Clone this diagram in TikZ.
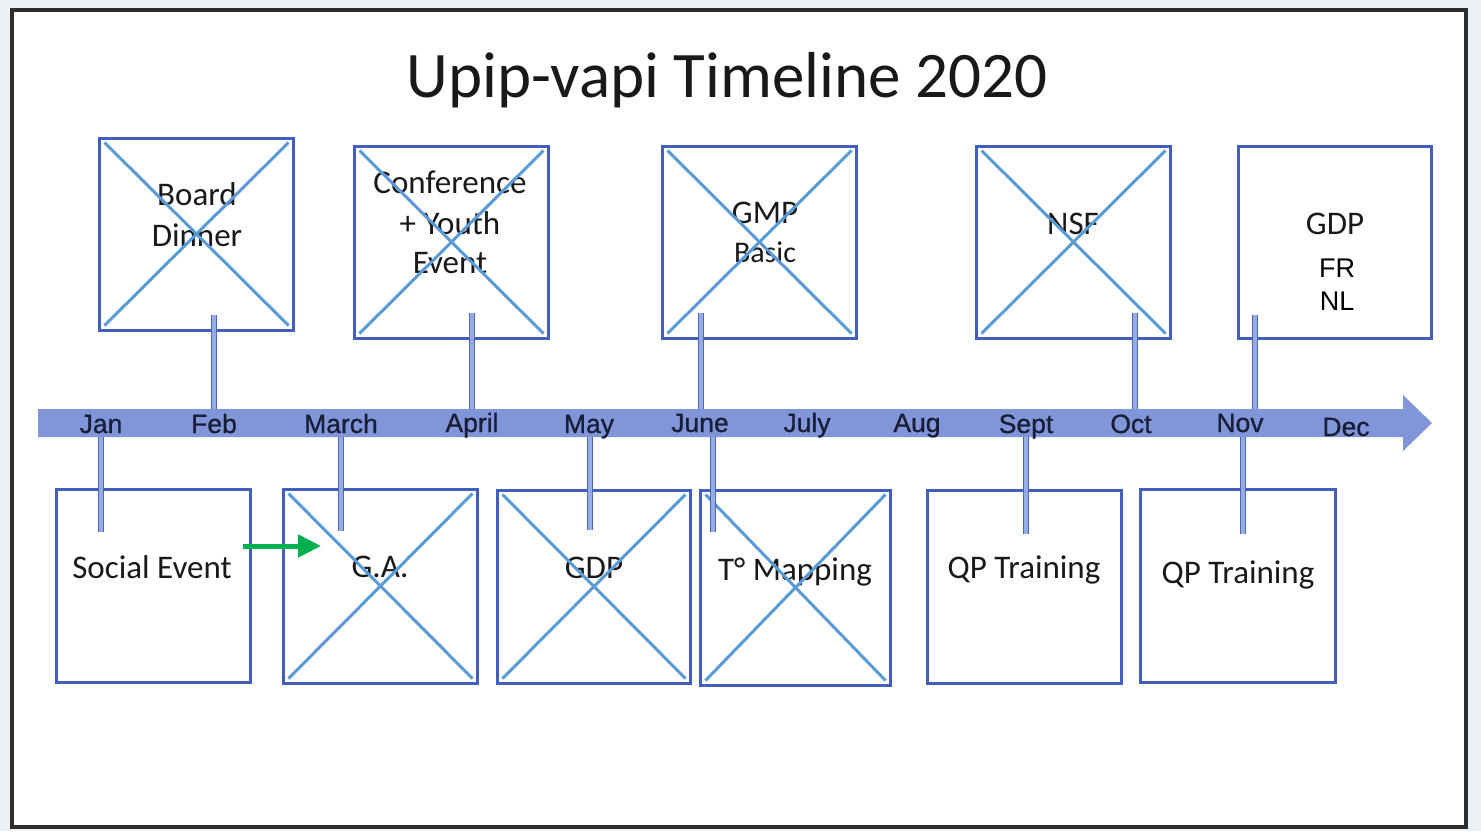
\documentclass[tikz,border=0pt]{standalone}
\usepackage{fontspec}
\setmainfont{Carlito}
\newfontfamily\arialf{Liberation Sans}
\newfontfamily\arialm[FakeBold=0.8]{Liberation Sans}
\usetikzlibrary{arrows.meta,calc}
\definecolor{pagebg}{RGB}{236,241,246}
\definecolor{framecol}{RGB}{45,45,45}
\definecolor{boxblue}{RGB}{66,94,190}
\definecolor{crossblue}{RGB}{91,155,213}
\definecolor{bandcol}{RGB}{128,150,216}
\definecolor{stemedge}{RGB}{80,100,180}
\definecolor{stemfill}{RGB}{150,172,228}
\definecolor{monthcol}{RGB}{24,30,56}
\definecolor{txtcol}{RGB}{25,25,25}
\definecolor{greenarr}{RGB}{0,176,80}
\tikzset{
  ebox/.style={draw=boxblue, line width=3pt, fill=white, inner sep=0pt, minimum width=194pt, minimum height=192pt},
  xline/.style={draw=crossblue, line width=3pt},
  stemline/.style={draw=stemedge, line width=1.2pt, double=stemfill, double distance=3.6pt},
  month/.style={font=\arialm\fontsize{26.5}{26.5}\selectfont, text=monthcol, inner sep=0pt, anchor=base},
  btext/.style={font=\fontsize{33}{33}\selectfont, text=txtcol, inner sep=0pt, anchor=base},
  atext/.style={font=\arialf\fontsize{27}{27}\selectfont, text=black, inner sep=0pt, anchor=base},
}
\newcommand{\crossbox}[1]{%
  \draw[xline] ($(#1.north west)+(7,6)$) -- ($(#1.south east)+(-6,-6)$);
  \draw[xline] ($(#1.north east)+(-6,6)$) -- ($(#1.south west)+(7,-6)$);}
\begin{document}
\begin{tikzpicture}[x=1pt,y=-1pt]
\useasboundingbox (0,0) rectangle (1481,831);
\fill[pagebg] (0,0) rectangle (1481,831);
\fill[white] (12,10) rectangle (1466,827);
\draw[framecol, line width=4pt] (12,10) rectangle (1466,827);
% title
\node[font=\fontsize{65}{65}\selectfont, text=txtcol, inner sep=0pt, anchor=base] (title) at (727,97) {Upip-vapi Timeline 2020};
% band
\fill[bandcol] (38,409) -- (1403,409) -- (1403,395) -- (1432,423) -- (1403,451) -- (1403,437) -- (38,437) -- cycle;
\coordinate (bandtop) at (0,409);
\coordinate (bandbot) at (0,437);
% month labels
\node[month] (jan) at (101,433) {Jan};
\node[month] (feb) at (214,433) {Feb};
\node[month] (mar) at (341,433) {March};
\node[month] (apr) at (472,432) {April};
\node[month] (may) at (589,433) {May};
\node[month] (jun) at (700,432) {June};
\node[month] (jul) at (807,432) {July};
\node[month] (aug) at (917,432) {Aug};
\node[month] (sep) at (1026,433) {Sept};
\node[month] (oct) at (1131,433) {Oct};
\node[month] (nov) at (1240,432) {Nov};
\node[month] (dec) at (1346,436) {Dec};
% top boxes
\node[ebox] (t1) at (196,234) {};
\node[ebox] (t2) at (451,242) {};
\node[ebox] (t3) at (759,242) {};
\node[ebox] (t4) at (1073,242) {};
\node[ebox, minimum width=193pt] (t5) at (1334.5,242) {};
% bottom boxes
\node[ebox, minimum height=193pt] (b1) at (153,585.5) {};
\node[ebox, minimum height=194pt] (b2) at (380,586) {};
\node[ebox, minimum width=193pt, minimum height=193pt] (b3) at (593.5,586.5) {};
\node[ebox, minimum width=190pt, minimum height=195pt] (b4) at (795,587.5) {};
\node[ebox, minimum height=193pt] (b5) at (1024,586.5) {};
\node[ebox, minimum width=195pt, minimum height=193pt] (b6) at (1237.5,585.5) {};
% texts
\node[btext] (l1a) at (197,205) {Board};
\node[btext] (l1b) at (197,246) {Dinner};
\node[btext] (l2a) at (450,193) {Conference};
\node[btext] (l2b) at (450,234) {+ Youth};
\node[btext] (l2c) at (450,273) {Event};
\node[btext] (l3a) at (765,223) {GMP};
\node[btext, font=\fontsize{30}{30}\selectfont] (l3b) at (765,262) {Basic};
\node[btext] (l4) at (1073,234) {NSF};
\node[btext] (l5a) at (1335,234) {GDP};
\node[atext] (l5b) at (1337,277) {FR};
\node[atext] (l5c) at (1337,310) {NL};
\node[btext] (m1) at (152,578) {Social Event};
\node[btext] (m2) at (380,577) {G.A.};
\node[btext] (m3) at (594,578) {GDP};
\node[btext] (m4) at (795,580) {T° Mapping};
\node[btext] (m5) at (1024,578) {QP Training};
\node[btext] (m6) at (1238,583) {QP Training};
% crosses
\crossbox{t1}
\crossbox{t2}
\crossbox{t3}
\crossbox{t4}
\crossbox{b2}
\crossbox{b3}
\crossbox{b4}
% stems (top)
\coordinate (sT1) at (214,315);
\coordinate (sT2) at (472,313);
\coordinate (sT3) at (701,313);
\coordinate (sT4) at (1135,313);
\coordinate (sT5) at (1255,315);
\draw[stemline] (sT1) -- (sT1 |- bandtop);
\draw[stemline] (sT2) -- (sT2 |- bandtop);
\draw[stemline] (sT3) -- (sT3 |- bandtop);
\draw[stemline] (sT4) -- (sT4 |- bandtop);
\draw[stemline] (sT5) -- (sT5 |- bandtop);
% stems (bottom)
\coordinate (sB1) at (101,532);
\coordinate (sB2) at (341,531);
\coordinate (sB3) at (590,530);
\coordinate (sB4) at (713,532);
\coordinate (sB5) at (1026,534);
\coordinate (sB6) at (1243,534);
\draw[stemline] (sB1 |- bandbot) -- (sB1);
\draw[stemline] (sB2 |- bandbot) -- (sB2);
\draw[stemline] (sB3 |- bandbot) -- (sB3);
\draw[stemline] (sB4 |- bandbot) -- (sB4);
\draw[stemline] (sB5 |- bandbot) -- (sB5);
\draw[stemline] (sB6 |- bandbot) -- (sB6);
% green arrow
\coordinate (gA) at (243,546);
\coordinate (gB) at (321,546);
\draw[greenarr, line width=5pt, -{Triangle[length=23pt,width=22pt]}] (gA) -- (gB);
\end{tikzpicture}
\end{document}
